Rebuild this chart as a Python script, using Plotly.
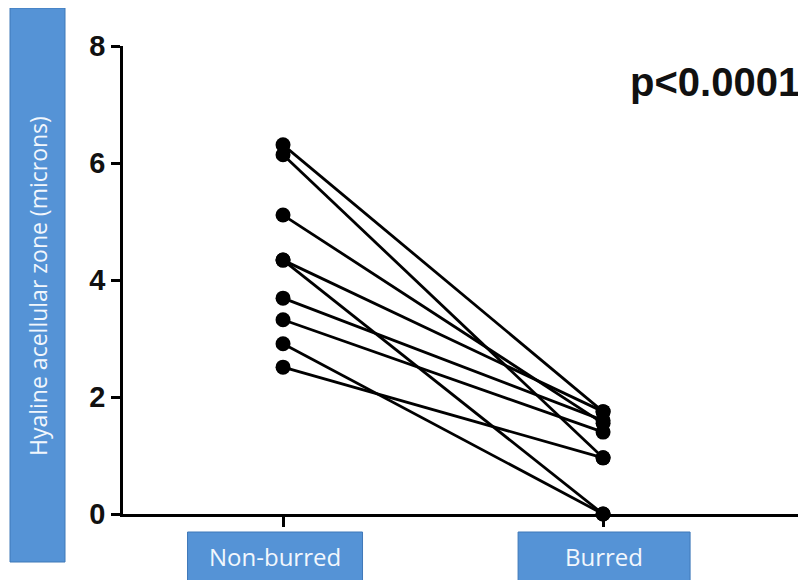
import plotly.graph_objects as go

categories = ["Non-burred", "Burred"]
non_burred = [6.31, 6.14, 5.11, 4.34, 4.34, 3.69, 3.32, 2.91, 2.51]
burred = [1.75, 0.96, 1.55, 1.75, 0.0, 1.6, 1.4, 0.0, 0.96]
y_ticks = [0, 2, 4, 6, 8]
y_title = "Hyaline acellular zone (microns)"
p_text = "p<0.0001"

BLUE = "#5593d6"
EDGE = "#3f78b8"

# page body adds an 8px offset; figure coords = reference coords - 8
W, H = 798, 572
L, T = 115, 38          # plot area left / top
PW, PH = W - L, 468     # plot width / height
B = H - T - PH


def px_x(x):  # reference pixel -> paper x
    return (x - 123) / PW


def px_y(y):  # reference pixel -> paper y
    return (514 - y) / PH


fig = go.Figure()
for a, b in zip(non_burred, burred):
    fig.add_trace(go.Scatter(
        x=[0, 1], y=[a, b], mode="lines+markers",
        line=dict(color="black", width=2.8),
        marker=dict(color="black", size=15),
        cliponaxis=False, showlegend=False, hoverinfo="skip"))

# label boxes under categories
offsets = [-8, 1]
widths = [175, 172]
for i, (cat, off, w) in enumerate(zip(categories, offsets, widths)):
    fig.add_shape(type="rect", xref="x", yref="paper",
                  xsizemode="pixel", xanchor=i,
                  x0=off - w / 2, x1=off + w / 2, y0=px_y(532), y1=px_y(600),
                  fillcolor=BLUE, line=dict(color=EDGE, width=1), layer="above")
    fig.add_annotation(x=i, y=px_y(556), xref="x", yref="paper", text=cat, showarrow=False,
                       xshift=off, xanchor="center", yanchor="middle",
                       font=dict(family="Open Sans", size=24, color="#f2f7fd"))

# y-title box
fig.add_shape(type="rect", xref="paper", yref="paper",
              x0=px_x(10), x1=px_x(65), y0=px_y(562), y1=px_y(8),
              fillcolor=BLUE, line=dict(color=EDGE, width=1), layer="above")
fig.add_annotation(x=px_x(38), y=px_y(286), xref="paper", yref="paper",
                   text=y_title, textangle=-90, showarrow=False,
                   xanchor="center", yanchor="middle",
                   font=dict(family="Open Sans", size=23, color="#f2f7fd"))

fig.add_annotation(x=px_x(802), y=px_y(82), xref="paper", yref="paper",
                   xanchor="right", yanchor="middle", text=p_text, showarrow=False,
                   font=dict(family="Liberation Sans", size=40, color="#111111",
                             weight="bold"))

fig.update_layout(
    width=W, height=H,
    margin=dict(l=L, r=0, t=T, b=B, autoexpand=False),
    plot_bgcolor="white", paper_bgcolor="white",
    xaxis=dict(range=[-0.5, 1.634], tickvals=[0, 1], showticklabels=False,
               ticks="outside", ticklen=10, tickwidth=2.6, tickcolor="black",
               showline=True, linecolor="black", linewidth=2.6,
               showgrid=False, zeroline=False, fixedrange=True),
    yaxis=dict(range=[0, 8], tickvals=y_ticks, ticks="outside", ticklen=9,
               tickwidth=2.6, tickcolor="black", showline=True, linecolor="black",
               linewidth=2.6, showgrid=False, zeroline=False,
               tickfont=dict(family="Liberation Sans", size=29, color="#111111",
                             weight="bold")),
)

fig.write_html("out.html")
